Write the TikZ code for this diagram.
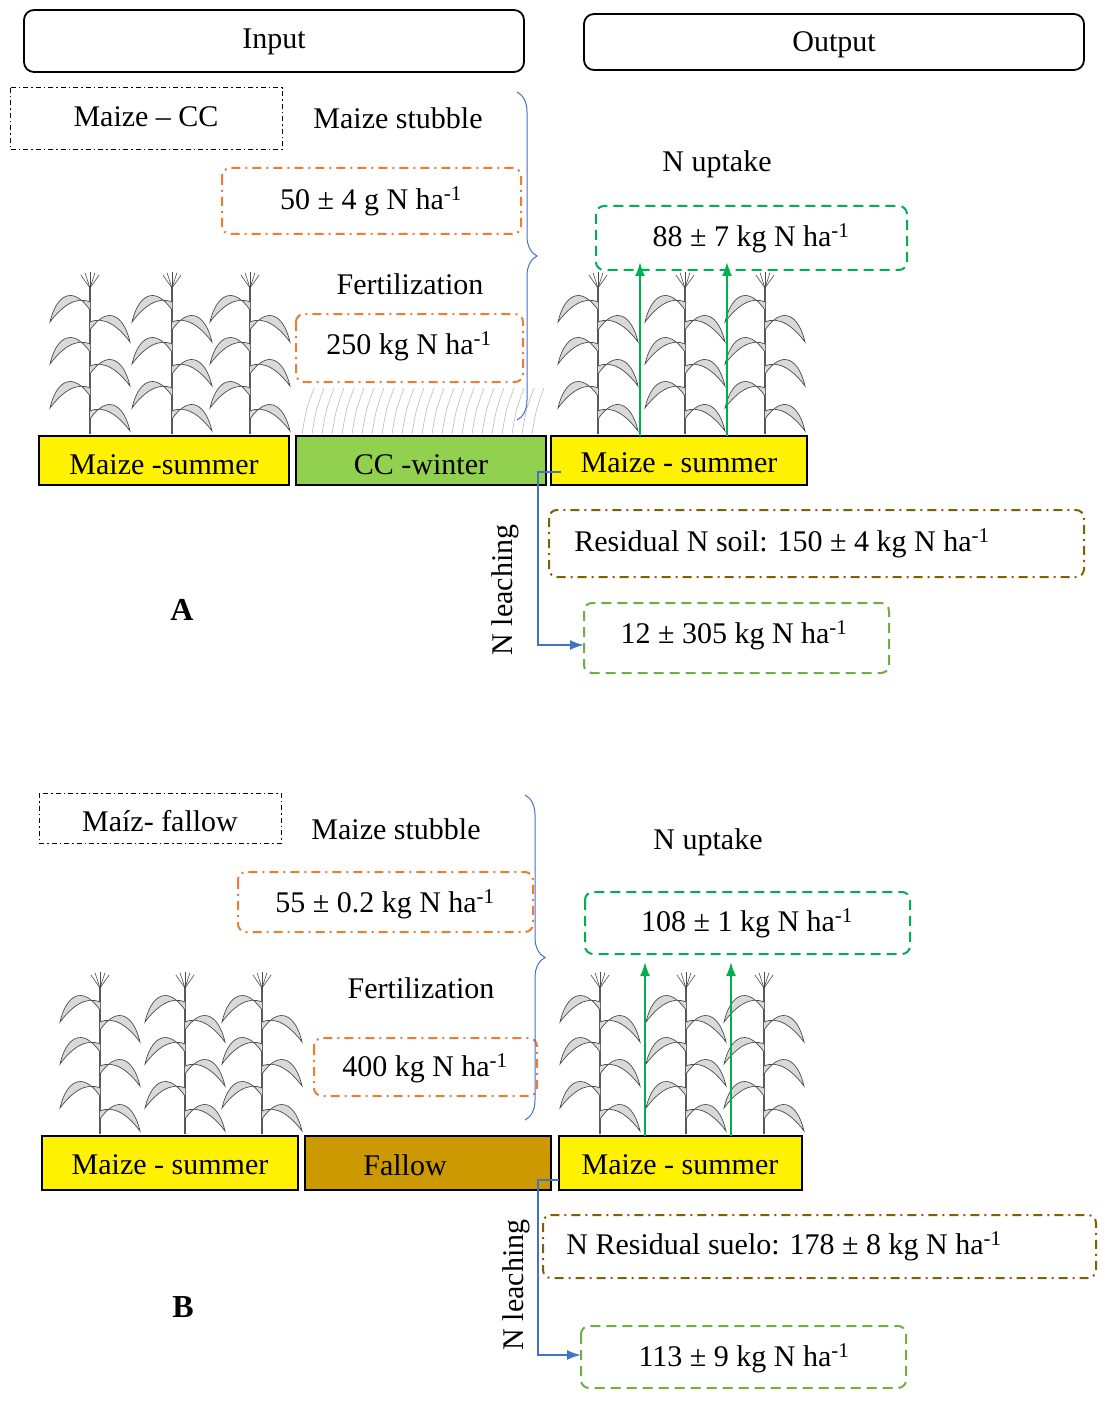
\documentclass[tikz,border=0pt]{standalone}
\usepackage{fontspec}
\setmainfont{Liberation Serif}
\usetikzlibrary{decorations.pathreplacing,arrows.meta}

\definecolor{ccgreen}{RGB}{146,208,80}
\definecolor{fallowbrown}{RGB}{204,153,0}
\definecolor{upgreen}{RGB}{0,176,80}
\definecolor{lightgreen}{RGB}{112,173,71}
\definecolor{inorange}{RGB}{237,125,49}
\definecolor{soilbrown}{RGB}{128,96,0}
\definecolor{leachblue}{RGB}{68,114,196}

\tikzset{
  maize/.pic={
    \draw[gray!70!black,line width=1.3pt] (0,0) -- (0,-148);
    \foreach \h/\s in {15/1,38/-1,60/1,82/-1,104/1,124/-1}{
      \draw[gray!60!black,line width=0.7pt,fill=gray!30]
        (0,-\h) .. controls (\s*18,-\h-26) and (\s*34,-\h-14) .. (\s*40,-\h+12)
        .. controls (\s*28,-\h-4) and (\s*14,-\h-14) .. (0,-\h-8);
    }
    \foreach \a in {-35,-18,0,18,35}
      \draw[gray!60!black,line width=0.6pt] (0,-146) -- ++(270+\a:16);
  }
}

\begin{document}
\begin{tikzpicture}[x=1pt,y=-1pt,
    txt/.style={font=\fontsize{30}{34}\selectfont},
    head/.style={draw,rounded corners=10pt,line width=1.8pt},
    tagbox/.style={draw,dash pattern=on 5pt off 3pt on 1.5pt off 3pt,line width=1pt},
    ddot/.style={dash pattern=on 9pt off 5pt on 2pt off 5pt},
    inbox/.style={draw=inorange,ddot,line width=2pt,rounded corners=8pt},
    upbox/.style={draw=upgreen,dash pattern=on 10pt off 6pt,line width=2pt,rounded corners=8pt},
    lbox/.style={draw=lightgreen,dash pattern=on 10pt off 6pt,line width=2pt,rounded corners=8pt},
    resbox/.style={draw=soilbrown,ddot,line width=2pt,rounded corners=8pt},
    crop/.style={draw,line width=1.5pt},
    brc/.style={draw=leachblue,line width=1pt,decorate,decoration={brace,amplitude=20pt}},
    uparr/.style={-{Latex[length=14pt,width=10pt]},upgreen,line width=2pt},
    leach/.style={-{Latex[length=14pt,width=10pt]},leachblue,line width=2pt}]

    \useasboundingbox[fill=white] (0,0) rectangle (1113,1404);

    % headers
    \draw[head] (24,10) rectangle (524,72);
    \node[txt] (input) at (274,42) {Input};
    \draw[head] (584,14) rectangle (1084,70);
    \node[txt] (output) at (834,45) {Output};

    % ---------- A ----------
    \draw[tagbox] (10,88) rectangle (282,150);
    \node[txt] (tagA) at (146,117) {Maize – CC};
    \node[txt] (stubA) at (398,118) {Maize stubble};
    \draw[inbox] (222,168) rectangle (521,234);
    \node[txt] (stubvalA) at (371,201) {50 ± 4 g N ha\textsuperscript{-1}};
    \node[txt] (fertA) at (410,284) {Fertilization};
    \draw[inbox] (296,314) rectangle (523,382);
    \node[txt] (fertvalA) at (409,346) {250 kg N ha\textsuperscript{-1}};
    \draw[brc] (517,92) -- (517,420);
    \node[txt] (uptA) at (717,164) {N uptake};
    \draw[upbox] (596,206) rectangle (907,270);
    \node[txt] (uptvalA) at (751,238) {88 ± 7 kg N ha\textsuperscript{-1}};

    \foreach \x in {90,172,250} \pic at (\x,434) {maize};
    \foreach \x in {598,685,765} \pic at (\x,434) {maize};
    \foreach \x in {302,312,...,538}
      \draw[gray!60,line width=0.5pt] (\x,434) .. controls (\x+4,410) .. (\x+12,388);

    \draw[crop,fill=yellow] (39,436) rectangle (289,485);
    \node[txt] (m1A) at (164,465) {Maize -summer};
    \draw[crop,fill=ccgreen] (296,436) rectangle (546,485);
    \node[txt] (ccA) at (421,465) {CC -winter};
    \draw[crop,fill=yellow] (551,436) rectangle (807,485);
    \node[txt] (m2A) at (679,463) {Maize - summer};

    \coordinate (a1) at (640,436); \coordinate (a1e) at (640,262);
    \coordinate (a2) at (727,436); \coordinate (a2e) at (727,262);
    \draw[uparr] (a1) -- (a1e);
    \draw[uparr] (a2) -- (a2e);

    \draw[resbox] (549,510) rectangle (1084,577);
    \node[txt] (resA) at (782,543) {Residual N soil: 150 ± 4 kg N ha\textsuperscript{-1}};
    \draw[lbox] (584,603) rectangle (889,673);
    \node[txt] (leachvalA) at (734,635) {12 ± 305 kg N ha\textsuperscript{-1}};
    \coordinate (lA) at (561,472);
    \draw[leach] (lA) -- (538,472) -- (538,645) -- (584,645);
    \node[txt,rotate=90] (leachA) at (505,590) {N leaching};
    \node[txt,font=\fontsize{32}{36}\selectfont\bfseries] (labA) at (182,610) {A};

    % ---------- B ----------
    \draw[tagbox] (39,793) rectangle (281,843);
    \node[txt] (tagB) at (160,821) {Maíz- fallow};
    \node[txt] (stubB) at (396,829) {Maize stubble};
    \draw[inbox] (238,872) rectangle (533,932);
    \node[txt] (stubvalB) at (385,904) {55 ± 0.2 kg N ha\textsuperscript{-1}};
    \node[txt] (fertB) at (421,988) {Fertilization};
    \draw[inbox] (314,1038) rectangle (537,1096);
    \node[txt] (fertvalB) at (425,1068) {400 kg N ha\textsuperscript{-1}};
    \draw[brc] (525,795) -- (525,1120);
    \node[txt] (uptB) at (708,842) {N uptake};
    \draw[upbox] (585,892) rectangle (910,954);
    \node[txt] (uptvalB) at (747,923) {108 ± 1 kg N ha\textsuperscript{-1}};

    \foreach \x in {100,185,262} \pic at (\x,1134) {maize};
    \foreach \x in {600,686,764} \pic at (\x,1134) {maize};

    \draw[crop,fill=yellow] (42,1136) rectangle (298,1190);
    \node[txt] (m1B) at (170,1165) {Maize - summer};
    \draw[crop,fill=fallowbrown] (305,1136) rectangle (551,1190);
    \node[txt] (fallowB) at (405,1165) {Fallow};
    \draw[crop,fill=yellow] (559,1136) rectangle (802,1190);
    \node[txt] (m2B) at (680,1165) {Maize - summer};

    \coordinate (b1) at (645,1136); \coordinate (b1e) at (645,962);
    \coordinate (b2) at (731,1136); \coordinate (b2e) at (731,962);
    \draw[uparr] (b1) -- (b1e);
    \draw[uparr] (b2) -- (b2e);

    \draw[resbox] (543,1215) rectangle (1096,1278);
    \node[txt] (resB) at (784,1246) {N Residual suelo: 178 ± 8 kg N ha\textsuperscript{-1}};
    \draw[lbox] (581,1326) rectangle (906,1388);
    \node[txt] (leachvalB) at (744,1358) {113 ± 9 kg N ha\textsuperscript{-1}};
    \coordinate (lB) at (559,1180);
    \draw[leach] (lB) -- (538,1180) -- (538,1355) -- (581,1355);
    \node[txt,rotate=90] (leachB) at (516,1285) {N leaching};
    \node[txt,font=\fontsize{32}{36}\selectfont\bfseries] (labB) at (183,1307) {B};

\end{tikzpicture}
\end{document}
